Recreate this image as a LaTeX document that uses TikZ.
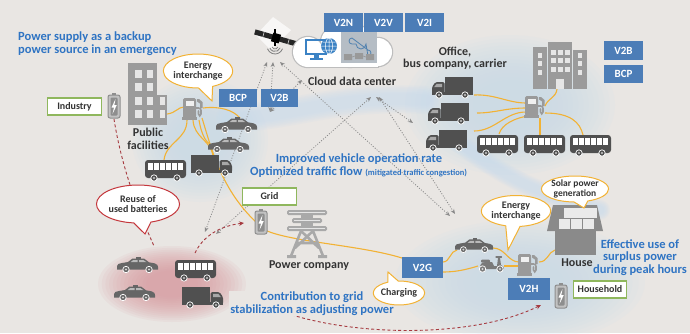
\documentclass[tikz,border=0pt]{standalone}
\usepackage{fontspec}
\setmainfont{Carlito}
\usetikzlibrary{shapes.callouts,arrows.meta}

\definecolor{bg}{HTML}{E9E6E3}
\definecolor{glowblue}{HTML}{C7DBEF}
\definecolor{glowred}{HTML}{D9959B}
\definecolor{boxblue}{HTML}{4C7DB7}
\definecolor{txtblue}{HTML}{2F74C3}
\definecolor{ink}{HTML}{333333}
\definecolor{carcol}{HTML}{666666}
\definecolor{vehcol}{HTML}{505050}
\definecolor{scootcol}{HTML}{7A7A7A}
\definecolor{bldg}{HTML}{9B9B9B}
\definecolor{pump}{HTML}{9A9A9A}
\definecolor{batt}{HTML}{8E8E8E}
\definecolor{pyl}{HTML}{A9A9A9}
\definecolor{hgray}{HTML}{8A8A8A}
\definecolor{wire}{HTML}{F2B234}
\definecolor{leaf}{HTML}{8FB75D}
\definecolor{redline}{HTML}{A63A40}
\definecolor{bubred}{HTML}{C4373C}
\definecolor{dots}{HTML}{8A8A8A}
\definecolor{mon}{HTML}{3B82C4}
\definecolor{cloudline}{HTML}{BDBDBD}
\definecolor{win}{HTML}{E6E6E6}

% soft glowing areas built from stacked translucent layers
\newcommand\softblob[5]{\foreach \sc in {1,0.95,...,0.3}{\fill[#1,opacity=0.09] (#2,#3) ellipse [x radius=\sc*#4, y radius=\sc*#5];}}
\newcommand\softband[2]{\foreach \sc in {1,0.88,...,0.3}{\draw[glowblue,opacity=0.14,line width=\sc*#2,line cap=round] #1;}}
% vehicle wheel
\newcommand\vwheel[3]{\filldraw[fill=#3,draw=white,line width=0.7pt] (#1,#2) circle (3.2); \fill[white!70!#3] (#1,#2) circle (1.1);}

\tikzset{
  car/.pic={
    \fill[carcol] (0,12.5) -- (0,9) .. controls (0,7) and (2,6.5) .. (5,6) -- (11,5) -- (15.5,1.5) -- (27,1.5) -- (32,5.3) -- (37.5,6.3) .. controls (40.5,7) and (41,8.5) .. (41,10) -- (41,12.5) -- cycle;
    \fill[carcol] (19,0) rectangle (23.5,2);
    \fill[white!55!carcol] (16.3,3) -- (20.5,3) -- (20.5,5.2) -- (13.5,5.2) -- cycle;
    \fill[white!55!carcol] (22,3) -- (26.3,3) -- (29.5,5.2) -- (22,5.2) -- cycle;
    \vwheel{9}{12.5}{carcol}\vwheel{32}{12.5}{carcol}
  },
  bus/.pic={
    \fill[vehcol,rounded corners=3pt] (0,0) rectangle (41,18);
    \foreach \i in {0,...,5} \fill[white] ({3+\i*6},3) rectangle ++(5,6.5);
    \vwheel{9}{18}{vehcol}\vwheel{32}{18}{vehcol}
  },
  truck/.pic={
    \fill[vehcol] (13,0) rectangle (41,16.5);
    \fill[vehcol,rounded corners=1.5pt] (0,17) -- (0,10) -- (3.5,5) -- (12.5,5) -- (12.5,17) -- cycle;
    \fill[white!50!vehcol] (2.2,10) -- (4.6,6.8) -- (10,6.8) -- (10,10) -- cycle;
    \fill[vehcol] (0,15) rectangle (41,18);
    \vwheel{7}{18}{vehcol}\vwheel{33}{18}{vehcol}
  },
  scooter/.pic={
    \fill[scootcol] (3,12) .. controls (3,8.5) and (6,7) .. (10,7) -- (15,7) -- (17,11) -- (20,11) -- (21,3) -- (23,3) -- (24,10) .. controls (26,11) and (27,12) .. (27,14) -- (3,14) -- cycle;
    \fill[scootcol,rounded corners=1pt] (4,4.5) rectangle (13,7.5);
    \draw[scootcol,line width=1.3pt,line cap=round] (19,2) -- (24.5,2);
    \vwheel{5.5}{14}{scootcol}\vwheel{23}{14}{scootcol}
  },
  pubbldg/.pic={
    \fill[bldg] (0,0) rectangle (29,62);
    \fill[bldg] (29,32) rectangle (39,62);
    \foreach \r in {7,20,34,47} {\fill[win] (7,\r) rectangle ++(6.5,8); \fill[win] (18.5,\r) rectangle ++(6.5,8);}
    \foreach \r in {34,47} \fill[win] (31.5,\r) rectangle ++(5,8);
  },
  office/.pic={
    \fill[bldg] (15,0) rectangle (39,47);
    \fill[bldg] (0,5) rectangle (14,47);
    \fill[bldg] (40,8) rectangle (54,47);
    \foreach \r in {8,16,25} {\foreach \c in {18,25,32} \fill[win] (\c,\r) rectangle ++(4.5,4.5);}
    \foreach \r in {11,19,28} {\fill[win] (4.5,\r) rectangle ++(4.5,4.5); \fill[win] (44.5,\r) rectangle ++(4.5,4.5);}
    \fill[win] (23,37) rectangle (31,47);
  },
  charger/.pic={
    \fill[pump,rounded corners=1.5pt] (0,1) rectangle (13,21);
    \fill[pump] (-1,20) rectangle (14,23);
    \fill[white!85!pump] (2.5,4) rectangle (10.5,9);
    \draw[pump,line width=1.6pt,line cap=round] (13,11) -- (15.5,11) .. controls (17.5,11) and (18,12) .. (18,13.5) -- (18,17) .. controls (18,19.5) and (15.5,19.5) .. (15.5,17) -- (15.5,14);
    \fill[pump] (14,2) -- (16,2) -- (19.5,5) -- (19.5,11) -- (17,11) -- (17,6.5) -- (14,4.5) -- cycle;
  },
  battery/.pic={
    \fill[batt] (4,0) rectangle (8,2.5);
    \filldraw[fill=batt!55!white,draw=batt,line width=1pt,rounded corners=2pt] (0,2) rectangle (12,25);
    \fill[batt,rounded corners=1pt] (2.5,4.5) rectangle (9.5,22.5);
    \fill[white] (7.5,6) -- (3.5,14.5) -- (6,14.5) -- (4.5,21) -- (8.8,12) -- (6.3,12) -- cycle;
  },
  pylon/.pic={
    \fill[pyl,rounded corners=1.5pt] (-20,0) rectangle (20,5);
    \fill[pyl,rounded corners=1.5pt] (-15,8) rectangle (15,13);
    \fill[pyl,rounded corners=1.5pt] (-20,16) rectangle (20,21);
    \fill[pyl] (-6,0) rectangle (6,21);
    \draw[white!70!pyl,line width=0.6pt] (-18,2.5) -- (18,2.5) (-13,10.5) -- (13,10.5) (-18,18.5) -- (18,18.5);
    \draw[pyl,line width=2.6pt] (-6,21) -- (-16,46) (6,21) -- (16,46) (-6,21) -- (12,38) (6,21) -- (-12,38) (-11,33) -- (11,33);
    \fill[pyl] (-20,45) rectangle (-11,48) (11,45) rectangle (20,48);
  },
  house/.pic={
    \fill[hgray] (8,25) rectangle (49,50);
    \fill[hgray] (6,0) -- (50,0) -- (56,26) -- (0,26) -- cycle;
    \foreach \px/\py in {17/3,28/3,39/3,12/14,24/14,36/14} {\fill[white!82!hgray] (\px,\py) rectangle ++(10.5,9.5);}
  },
}

\begin{document}
\begin{tikzpicture}[x=1pt,y=-1pt,
  lbl/.style={font=\bfseries\fontsize{12}{12.5}\selectfont,text=ink,align=center,inner sep=0pt},
  bluetxt/.style={font=\bfseries\fontsize{12.5}{13}\selectfont,text=txtblue,align=center,inner sep=0pt},
  tag/.style={fill=boxblue,text=white,font=\bfseries\fontsize{11}{12}\selectfont,inner sep=0pt,minimum height=18.5pt,minimum width=38pt},
  greenbox/.style={draw=leaf,line width=1.4pt,fill=white,text=ink,font=\bfseries\fontsize{10}{11}\selectfont,inner sep=0pt,minimum height=17pt},
  bubble/.style={ellipse callout,draw=wire,line width=1pt,fill=white,text=ink,font=\bfseries\fontsize{10}{10}\selectfont,align=center,inner sep=0pt,callout pointer arc=24},
  wireline/.style={draw=wire,line width=1.1pt},
  link/.style={draw=dots,line width=0.8pt,dash pattern=on 1pt off 1.6pt,{Stealth[length=5pt,width=4pt]}-{Stealth[length=5pt,width=4pt]}},
  flow/.style={draw=redline,line width=0.9pt,dash pattern=on 3pt off 2.4pt},
  flowtip/.style={-{Stealth[length=5pt,width=4.5pt]}},
]
\useasboundingbox (0,0) rectangle (690,333);
\fill[bg] (0,0) rectangle (690,333);

% ---- glowing service areas
\softblob{glowblue}{200}{140}{68}{62}
\softblob{glowblue}{510}{105}{105}{70}
\softblob{glowblue}{520}{282}{125}{62}
\softband{(230,118) .. controls (290,118) and (330,95) .. (425,100)}{28pt}
\softband{(455,140) .. controls (490,165) and (520,190) .. (600,210)}{20pt}
\softblob{glowred}{172}{284}{74}{38}

% ---- anchor points
\coordinate (s1) at (267,62);
\coordinate (s2) at (273,62);
\coordinate (s3) at (280,62);
\coordinate (cloudW) at (302,80);
\coordinate (hub1) at (371,97);
\coordinate (hub2) at (376,97);
\coordinate (hub3) at (379,97);
\coordinate (pA) at (205,232);
\coordinate (pB) at (270,112);
\coordinate (pC) at (216,234);
\coordinate (pD) at (413,123);
\coordinate (pE) at (450,216);
\coordinate (pF) at (455,214);

% ---- communication links
\draw[link] (s1) -- (pA);
\draw[link] (s2) -- (pB);
\draw[link] (cloudW) -- (pB);
\draw[link] (s3) -- (pE);
\draw[link] (hub1) -- (pC);
\draw[link] (hub2) -- (pD);
\draw[link] (hub3) -- (pF);

% ---- battery reuse flows
\coordinate (indBattS) at (114,119);
\coordinate (redN) at (154,246);
\coordinate (redNE) at (195,253);
\coordinate (gridBattW) at (244,223);
\coordinate (redE) at (243,292);
\coordinate (homeBattW) at (541,305);
\draw[flow] (indBattS) .. controls (122,170) and (140,215) .. (redN);
\draw[flow,flowtip] (redNE) .. controls (203,236) and (220,226) .. (gridBattW);
\draw[flow,flowtip] (redE) .. controls (300,335) and (460,345) .. (homeBattW);

% ---- power wiring, left site
\coordinate (lbR) at (167,114);
\coordinate (lpW) at (184,107);
\coordinate (lpE) at (203,108);
\coordinate (carAtop) at (240,118);
\coordinate (lpS1) at (187,120);
\coordinate (busLtop) at (164,160);
\coordinate (lpS2) at (193,120);
\coordinate (truckLtop) at (213,156);
\coordinate (lpS3) at (199,120);
\coordinate (carBW) at (212,145);
\coordinate (lpS4) at (202,118);
\coordinate (gridBend) at (265,230);
\coordinate (v2gNW) at (402,258);
\draw[wireline] (lbR) .. controls (176,113) and (178,107) .. (lpW);
\draw[wireline] (lpE) .. controls (220,106) and (233,110) .. (carAtop);
\draw[wireline] (lpS1) .. controls (187,140) and (166,142) .. (busLtop);
\draw[wireline] (lpS2) .. controls (194,138) and (211,140) .. (truckLtop);
\draw[wireline] (lpS3) .. controls (201,132) and (205,143) .. (carBW);
\draw[wireline] (lpS4) .. controls (212,150) and (222,195) .. (gridBend) .. controls (290,242) and (360,245) .. (v2gNW);

% ---- power wiring, right site
\coordinate (rpW1) at (526,103);
\coordinate (rpW2) at (526,108);
\coordinate (rpW3) at (526,112);
\coordinate (rpSW) at (528,116);
\coordinate (rpS) at (540,118);
\coordinate (rpE) at (545,113);
\coordinate (rpNE) at (545,106);
\coordinate (tr1E) at (474,95);
\coordinate (tr2E) at (477,113);
\coordinate (tr3E) at (474,131);
\coordinate (bus1N) at (499,134);
\coordinate (bus2N) at (540,137);
\coordinate (bus3N) at (583,135);
\coordinate (officeS) at (557,89);
\draw[wireline] (rpW1) .. controls (508,103) and (495,94) .. (tr1E);
\draw[wireline] (rpW2) .. controls (505,108) and (495,113) .. (tr2E);
\draw[wireline] (rpW3) .. controls (505,112) and (495,131) .. (tr3E);
\draw[wireline] (rpSW) .. controls (515,118) and (502,124) .. (bus1N);
\draw[wireline] (rpS) -- (bus2N);
\draw[wireline] (rpE) .. controls (570,113) and (580,122) .. (bus3N);
\draw[wireline] (rpNE) .. controls (548,98) and (556,98) .. (officeS);

% ---- power wiring, home
\coordinate (v2gNE) at (443,262);
\coordinate (v2gSE) at (443,272);
\coordinate (carRW) at (457,250);
\coordinate (carRE) at (493,248);
\coordinate (scW) at (478,266);
\coordinate (scE) at (504,266);
\coordinate (hpW1) at (519,262);
\coordinate (hpW2) at (519,266);
\coordinate (hpE) at (539,262);
\coordinate (houseW) at (555,250);
\draw[wireline] (v2gNE) .. controls (450,262) and (450,251) .. (carRW);
\draw[wireline] (v2gSE) .. controls (455,272) and (465,270) .. (scW);
\draw[wireline] (carRE) .. controls (505,248) and (508,262) .. (hpW1);
\draw[wireline] (scE) -- (hpW2);
\draw[wireline] (hpE) .. controls (548,262) and (548,252) .. (houseW);

% ---- buildings and equipment
\pic at (128,63) {pubbldg};
\pic at (533,42) {office};
\pic at (183,97) {charger};
\pic at (525,95) {charger};
\pic at (518,253) {charger};
\pic at (108,93) {battery};
\pic at (255,209) {battery};
\pic at (555,283) {battery};
\pic at (307,210) {pylon};
\pic at (547,205) {house};

% ---- vehicles
\pic at (216,117) {car};
\pic at (208,137) {car};
\pic at (145,160) {bus};
\pic[xscale=-1] at (232,155) {truck};
\pic at (432,77) {truck};
\pic at (428,103) {truck};
\pic at (426,130) {truck};
\pic at (477,135) {bus};
\pic at (524,135) {bus};
\pic at (570,135) {bus};
\pic at (117,257) {car};
\pic at (114,285) {car};
\pic at (175,260) {bus};
\pic[xscale=-1] at (223,287) {truck};
\pic[scale=0.93] at (455,238) {car};
\pic at (477,255) {scooter};

% ---- satellite
\fill[white,opacity=0.7] (273,17) -- (291,30) -- (271,50) -- (256,35) -- cycle;
\begin{scope}[shift={(276,38)},rotate=-16]
  \fill[black!85] (-22,-2.6) rectangle (22,2.6);
  \fill[black] (-4,-4.5) rectangle (4,4.5);
  \draw[white,line width=0.5pt] (-13,-2.6) -- (-13,2.6) (13,-2.6) -- (13,2.6);
\end{scope}
\draw[black,line width=1.4pt] (275,29) -- (275,46);
\foreach \r in {3,5.5,8} \draw[gray,line width=0.8pt] (275,46) ++(20:\r) arc[start angle=20,end angle=160,radius=\r];

% ---- cloud data center
\foreach \cx/\cy/\cr in {308/52/15,336/42/15,362/39/12,378/52/14,350/55/12} \fill[cloudline] (\cx,\cy) circle (\cr+1.2);
\fill[cloudline] (307,49) rectangle (379,68.2);
\foreach \cx/\cy/\cr in {308/52/15,336/42/15,362/39/12,378/52/14,350/55/12} \fill[white] (\cx,\cy) circle (\cr);
\fill[white] (308,50) rectangle (378,67);
\draw[mon,line width=1.3pt] (306,40) rectangle (326,54);
\fill[mon] (314,54) rectangle (318.5,58);
\fill[mon] (310,58) rectangle (322.5,59.6);
\fill[mon] (329,46) circle (8);
\draw[white,line width=0.5pt] (329,38) -- (329,54) (321,46) -- (337,46) (322.5,42) -- (335.5,42) (322.5,50) -- (335.5,50) (329,46) ellipse [x radius=3.5,y radius=8];
\fill[white!80!mon!60!gray] (341,32) rectangle (377,63);
\draw[mon!70!gray,line width=0.8pt] (352,44) arc[start angle=90,end angle=270,radius=3] -- (368,50) arc[start angle=-90,end angle=90,radius=3] -- (366,44) arc[start angle=0,end angle=180,radius=5] -- cycle;
\fill[gray!80] (344,54) rectangle (352,60) (355,53) rectangle (363,59) (366,54) rectangle (374,60);
\draw[gray!80,line width=0.7pt] (352,57) -- (355,56) (363,56) -- (366,57);

% ---- service tags
\node[tag] (bcpL) at (238,98) {BCP};
\node[tag,minimum width=37pt] (v2bL) at (279.5,98) {V2B};
\node[tag,minimum width=39pt,minimum height=19pt] (v2n) at (343.5,22.5) {V2N};
\node[tag,minimum width=39pt,minimum height=19pt] (v2v) at (383.5,22.5) {V2V};
\node[tag,minimum width=39pt,minimum height=19pt] (v2i) at (424.5,22.5) {V2I};
\node[tag,minimum width=39pt,minimum height=19pt] (v2bR) at (623.5,50.5) {V2B};
\node[tag,minimum width=39pt] (bcpR) at (623.5,74) {BCP};
\node[tag,minimum width=41pt,minimum height=21pt] (v2g) at (422.5,267.5) {V2G};
\node[tag,minimum width=42pt,minimum height=22pt] (v2h) at (529,289) {V2H};

% ---- category boxes
\node[greenbox,minimum width=54pt] (industry) at (74.5,106.5) {Industry};
\node[greenbox,minimum width=54pt] (grid) at (269.5,196.5) {Grid};
\node[greenbox,minimum width=53pt] (household) at (600,289.5) {Household};

% ---- labels
\node[bluetxt,anchor=west,align=left] (backup) at (18,43.5) {Power supply as a backup\\power source in an emergency};
\node[lbl] (pubfac) at (148,139) {Public\\facilities};
\node[lbl] (cloudlbl) at (352,81) {Cloud data center};
\node[lbl] (officelbl) at (455,58) {Office,\\bus company, carrier};
\node[bluetxt] (improved) at (359,159) {Improved vehicle operation rate};
\node[bluetxt,anchor=west] (optimized) at (250,172) {Optimized traffic flow {\fontsize{8.5}{9}\selectfont (mitigated traffic congestion)}};
\node[lbl] (powerco) at (309,266) {Power company};
\node[bluetxt,fill=bg,inner sep=1pt] (contrib) at (312,303.5) {Contribution to grid\\stabilization as adjusting power};
\node[lbl] (houselbl) at (577,263) {House};
\node[bluetxt,font=\bfseries\fontsize{12.5}{12.5}\selectfont] (effective) at (640,257.5) {Effective use of\\surplus power\\during peak hours};

% ---- speech bubbles
\coordinate (tipA) at (212,101);
\coordinate (tipB) at (145,234);
\coordinate (tipC) at (388,272);
\coordinate (tipD) at (508,250);
\coordinate (tipE) at (584,208);
\node[bubble,minimum width=63pt,minimum height=34pt,callout absolute pointer=(tipA)] (exL) at (198,71) {Energy\\interchange};
\node[bubble,draw=bubred,minimum width=74pt,minimum height=38pt,callout absolute pointer=(tipB)] (reuse) at (138,204) {Reuse of\\used batteries};
\node[bubble,minimum width=48pt,minimum height=24pt,callout absolute pointer=(tipC)] (charging) at (399,293) {Charging};
\node[bubble,minimum width=55pt,minimum height=31pt,callout absolute pointer=(tipD)] (exR) at (516,211) {Energy\\interchange};
\node[bubble,font=\bfseries\fontsize{9.5}{9.5}\selectfont,minimum width=66pt,minimum height=26pt,callout absolute pointer=(tipE)] (solar) at (575,189) {Solar power\\generation};
\end{tikzpicture}
\end{document}
